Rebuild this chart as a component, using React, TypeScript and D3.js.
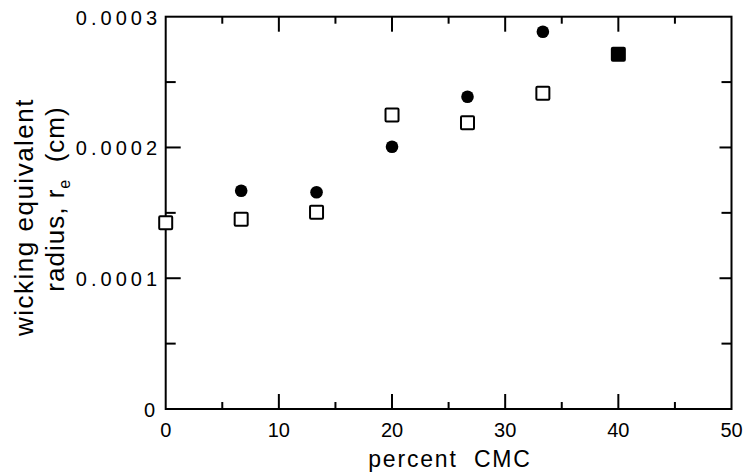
import React from "react";
import * as d3 from "d3";

const squareX = [0, 6.67, 13.33, 20, 26.67, 33.33];
const squareY = [0.0001425, 0.0001451, 0.0001504, 0.0002248, 0.0002189, 0.0002414];
const circleX = [6.67, 13.33, 20, 26.67, 33.33];
const circleY = [0.0001669, 0.0001657, 0.0002006, 0.0002388, 0.0002885];
// coincident points (both series) drawn as filled squares
const bothX = [40];
const bothY = [0.0002712];

const xMajor = [0, 10, 20, 30, 40, 50];
const xMinor = [5, 15, 25, 35, 45];
const yMajor = [0, 0.0001, 0.0002, 0.0003];
const yMinor = [0.00005, 0.00015, 0.00025];
const yLabels = ["0", "0.0001", "0.0002", "0.0003"];

export default function App() {
  const W = 744, H = 476;
  const x = d3.scaleLinear().domain([0, 50]).range([165.7, 731.5]);
  const y = d3.scaleLinear().domain([0, 0.0003]).range([409, 16.7]);
  const x0 = x(0), x1 = x(50), y0 = y(0), y1 = y(0.0003);
  const font = "'Liberation Sans', Arial, sans-serif";
  const sq = 13;
  return (
    <svg width={W} height={H} style={{ position: "absolute", left: 0, top: 0, background: "#fff" }}>
      <rect x={0} y={0} width={W} height={H} fill="#fff" />
      <g stroke="#000" strokeWidth={2} fill="none">
        <rect x={x0} y={y1} width={x1 - x0} height={y0 - y1} />
        {xMajor.slice(1, -1).map((v) => (
          <g key={"xm" + v}>
            <line x1={x(v)} x2={x(v)} y1={y0} y2={y0 - 15} />
            <line x1={x(v)} x2={x(v)} y1={y1} y2={y1 + 15} />
          </g>
        ))}
        {xMinor.map((v) => (
          <g key={"xn" + v}>
            <line x1={x(v)} x2={x(v)} y1={y0} y2={y0 - 7} />
            <line x1={x(v)} x2={x(v)} y1={y1} y2={y1 + 7} />
          </g>
        ))}
        {yMajor.slice(1, -1).map((v) => (
          <g key={"ym" + v}>
            <line x1={x0} x2={x0 + 15} y1={y(v)} y2={y(v)} />
            <line x1={x1} x2={x1 - 12} y1={y(v)} y2={y(v)} />
          </g>
        ))}
        {yMinor.map((v) => (
          <g key={"yn" + v}>
            <line x1={x0} x2={x0 + 10} y1={y(v)} y2={y(v)} />
            <line x1={x1} x2={x1 - 10} y1={y(v)} y2={y(v)} />
          </g>
        ))}
      </g>
      <g fontFamily={font} fontSize={20} fill="#000">
        {yMajor.map((v, i) => (
          <text key={"yl" + v} x={i === 0 ? 155 : 161} y={y(v) + 8} textAnchor="end" letterSpacing={i === 0 ? 0 : 4}>
            {yLabels[i]}
          </text>
        ))}
        {xMajor.map((v) => (
          <text key={"xl" + v} x={x(v)} y={437} textAnchor="middle">
            {v}
          </text>
        ))}
        <text x={450} y={467} textAnchor="middle" fontSize={23} letterSpacing={1.8}>{"percent\u00a0\u00a0CMC"}</text>
      </g>
      <g fontFamily={font} fontSize={26} fill="#000">
        <text transform={`translate(33,217) rotate(-90)`} textAnchor="middle" letterSpacing={1.5}>
          wicking equivalent
        </text>
        <text transform={`translate(64,199) rotate(-90)`} textAnchor="middle" letterSpacing={1}>
          radius,{" "}r
          <tspan fontSize={16} dy={6}>e</tspan>
          <tspan dy={-6}>{"\u00a0\u00a0(cm)"}</tspan>
        </text>
      </g>
      <g>
        {squareX.map((v, i) => (
          <rect key={"s" + i} x={x(v) - sq / 2} y={y(squareY[i]) - sq / 2} width={sq} height={sq}
            fill="#fff" stroke="#000" strokeWidth={2} rx={1} />
        ))}
        {circleX.map((v, i) => (
          <circle key={"c" + i} cx={x(v)} cy={y(circleY[i])} r={6.3} fill="#000" />
        ))}
        {bothX.map((v, i) => (
          <rect key={"b" + i} x={x(v) - sq / 2} y={y(bothY[i]) - sq / 2} width={sq} height={sq}
            fill="#000" stroke="#000" strokeWidth={2} rx={1} />
        ))}
      </g>
    </svg>
  );
}
